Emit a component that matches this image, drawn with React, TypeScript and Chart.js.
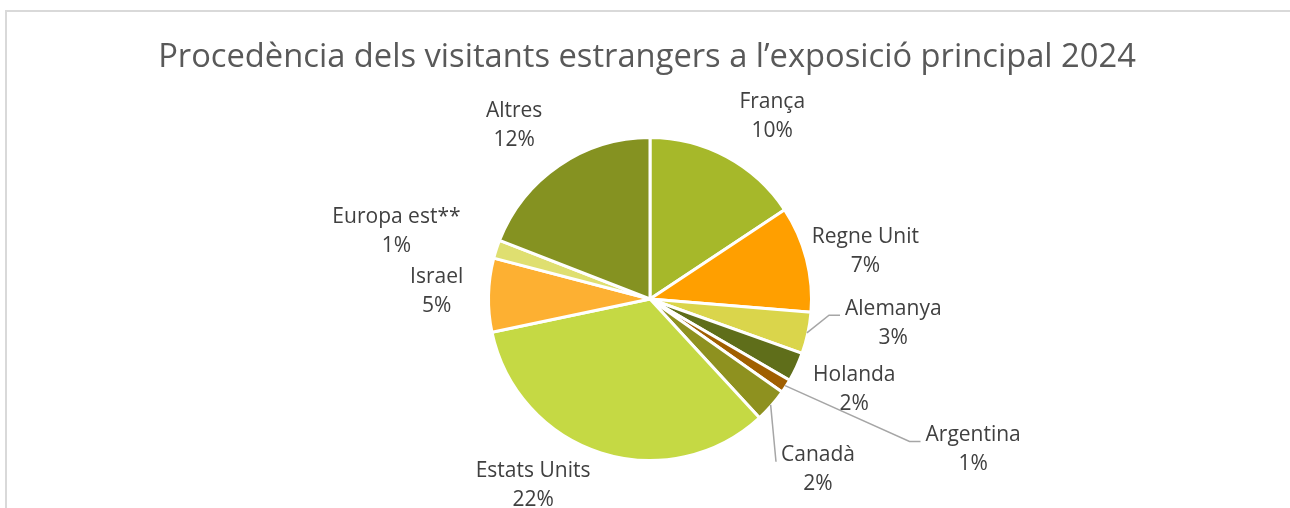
import React, { useEffect, useRef } from "react";
import { Chart, registerables } from "chart.js";

Chart.register(...registerables);

const TITLE = "Procedència dels visitants estrangers a l’exposició principal 2024";
const categories = ["França", "Regne Unit", "Alemanya", "Holanda", "Argentina", "Canadà", "Estats Units", "Israel", "Europa est**", "Altres"];
const values = [10.2, 6.9, 2.7, 1.9, 0.9, 2.2, 21.8, 4.8, 1.2, 12.4];
const percentLabels = ["10%", "7%", "3%", "2%", "1%", "2%", "22%", "5%", "1%", "12%"];
const colors = ["#A6B82A", "#FF9F00", "#DAD54B", "#5F6E1A", "#A05F00", "#8E911F", "#C5D944", "#FDB032", "#DFDF70", "#859221"];

// label layout: angular nudge (deg) and distance beyond the outer radius (px); leader elbow (px) or null
const labelNudge = [5.6, 2.0, -6.5, -1, -7.7, 4.2, 14.3, 0.6, -3, -3.7];
const labelGap = [58, 59, 83, 62, 195, 78, 59, 52, 101, 59];
const leaderElbow: (number | null)[] = [null, null, 11, null, 11, 0, null, null, null, null];

const FONT = "'Open Sans', Lato, sans-serif";
const W = 1290;
const H = 508;

const decorPlugin = {
  id: "decor",
  beforeDraw(chart: any) {
    const ctx = chart.ctx;
    ctx.save();
    ctx.fillStyle = "#ffffff";
    ctx.fillRect(0, 0, W, H);
    ctx.strokeStyle = "#D9D9D9";
    ctx.lineWidth = 2;
    ctx.beginPath();
    ctx.moveTo(6, H + 5);
    ctx.lineTo(6, 11);
    ctx.lineTo(W + 5, 11);
    ctx.stroke();
    ctx.fillStyle = "#595959";
    ctx.font = `32.7px ${FONT}`;
    ctx.textAlign = "center";
    ctx.textBaseline = "alphabetic";
    ctx.fillText(TITLE, 647, 67);
    ctx.restore();
  },
  afterDraw(chart: any) {
    const ctx = chart.ctx;
    const meta = chart.getDatasetMeta(0);
    ctx.save();
    ctx.font = `21px ${FONT}`;
    ctx.textAlign = "center";
    ctx.textBaseline = "middle";
    meta.data.forEach((arc: any, i: number) => {
      const { x, y, startAngle, endAngle, outerRadius } = arc.getProps(["x", "y", "startAngle", "endAngle", "outerRadius"], true);
      const mid = (startAngle + endAngle) / 2;
      const a = mid + (labelNudge[i] * Math.PI) / 180;
      const d = outerRadius + labelGap[i];
      const cx = x + Math.cos(a) * d;
      const cy = y + Math.sin(a) * d;
      const l1 = cy - 14.5;
      const l2 = cy + 14.5;
      ctx.fillStyle = "#404040";
      ctx.fillText(categories[i], cx, l1);
      ctx.fillText(percentLabels[i], cx, l2);
      const elbow = leaderElbow[i];
      if (elbow !== null) {
        const w = ctx.measureText(categories[i]).width;
        const left = cx - w / 2;
        const sx = x + Math.cos(mid) * (outerRadius - 1);
        const sy = y + Math.sin(mid) * (outerRadius - 1);
        const ey = l1 + 6.5;
        ctx.strokeStyle = "#A6A6A6";
        ctx.lineWidth = 1.5;
        ctx.beginPath();
        ctx.moveTo(sx, sy);
        ctx.lineTo(left - 5 - elbow, ey);
        ctx.lineTo(left - 5, ey);
        ctx.stroke();
      }
    });
    ctx.restore();
  },
};

export default function App() {
  const ref = useRef<HTMLCanvasElement | null>(null);
  useEffect(() => {
    if (!ref.current) return;
    const chart = new Chart(ref.current, {
      type: "pie",
      data: {
        labels: categories,
        datasets: [
          {
            data: values,
            backgroundColor: colors,
            borderColor: "#ffffff",
            borderWidth: 3,
          },
        ],
      },
      options: {
        animation: false,
        responsive: false,
        devicePixelRatio: 1,
        layout: { padding: { top: 136, bottom: 46, left: 10, right: 0 } },
        plugins: {
          legend: { display: false },
          tooltip: { enabled: false },
          title: { display: false },
        },
        events: [],
      },
      plugins: [decorPlugin],
    });
    return () => chart.destroy();
  }, []);
  return (
    <div style={{ position: "fixed", left: 0, top: 0, width: W, height: H, overflow: "hidden", background: "#fff" }}>
      <canvas ref={ref} width={W} height={H} style={{ width: W, height: H, display: "block" }} />
    </div>
  );
}
